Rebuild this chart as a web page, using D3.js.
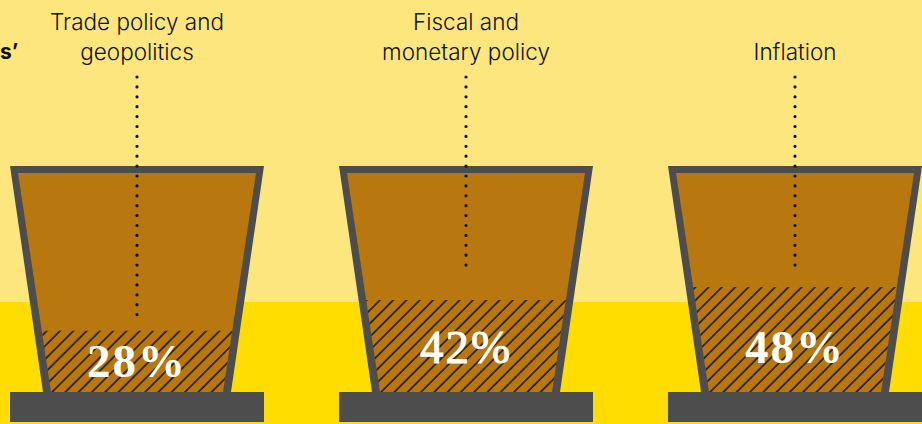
<!DOCTYPE html>
<html>
<head>
<meta charset="utf-8">
<script src="https://cdn.jsdelivr.net/npm/d3@7"></script>
<style>
  html, body { margin: 0; padding: 0; background: #FEE67F; }
  svg { display: block; }
</style>
</head>
<body>
<svg id="chart" width="922" height="424"></svg>
<script>
// Concerns, as shown above each cup
const categories = [
  ["Trade policy and", "geopolitics"],
  ["Fiscal and", "monetary policy"],
  ["Inflation"]
];
// Share of respondents (%) — hatched fill level in each cup
const shares = [28, 42, 48];
// Value labels
const valueLabels = ["28%", "42%", "48%"];

// ---- layout ----
const W = 922, H = 424;
const colors = {
  sky: "#FEE67F",
  ground: "#FFDD00",
  frame: "#4D4D4D",
  fill: "#B8770F",
  ink: "#111111"
};
const horizonY = 302;
const rimTop = 166, innerTop = 173, cupBottom = 392, baseBottom = 422;
const outerTopHalf = 127, outerBottomHalf = 94;
const innerTopHalf = 119, innerBottomHalf = 86;
const baseHalf = 127;
const leaderTop = 77;
const leaderBottom = [315, 270, 270];
const labelWeights = ["bold", "normal", "bold"];
const labelStroke = [0, 0.9, 0];

const svg = d3.select("#chart");

const x = d3.scalePoint()
  .domain(d3.range(categories.length))
  .range([137, 795]);

const y = d3.scaleLinear()
  .domain([0, 100])
  .range([cupBottom, innerTop]);

// inner half-width of a cup at a given height
const innerHalfAt = d3.scaleLinear()
  .domain([innerTop, cupBottom])
  .range([innerTopHalf, innerBottomHalf]);

// backdrop
svg.append("rect").attr("width", W).attr("height", H).attr("fill", colors.sky);
svg.append("rect").attr("y", horizonY).attr("width", W).attr("height", H - horizonY).attr("fill", colors.ground);

// hatch pattern
const defs = svg.append("defs");
const pat = defs.append("pattern")
  .attr("id", "hatch")
  .attr("patternUnits", "userSpaceOnUse")
  .attr("width", 9.4)
  .attr("height", 9.4)
  .attr("patternTransform", "rotate(45)");
pat.append("line")
  .attr("x1", 1).attr("y1", 0).attr("x2", 1).attr("y2", 9.4)
  .attr("stroke", colors.ink)
  .attr("stroke-width", 1.5);

// tail of the heading at the left edge
svg.append("text")
  .attr("x", 0).attr("y", 59)
  .attr("text-anchor", "start")
  .attr("font-family", "Inter, 'Noto Sans', sans-serif")
  .attr("font-weight", "bold")
  .attr("font-size", 21)
  .attr("fill", colors.ink)
  .text("s’");

const line = d3.line();

const cups = svg.selectAll("g.cup")
  .data(shares)
  .join("g")
  .attr("class", "cup")
  .attr("transform", (d, i) => `translate(${x(i)},0)`);

// frame
cups.append("path")
  .attr("d", line([
    [-outerTopHalf, rimTop], [outerTopHalf, rimTop],
    [outerBottomHalf, cupBottom], [-outerBottomHalf, cupBottom]
  ]) + "Z")
  .attr("fill", colors.frame);

// inside
cups.append("path")
  .attr("d", line([
    [-innerTopHalf, innerTop], [innerTopHalf, innerTop],
    [innerBottomHalf, cupBottom], [-innerBottomHalf, cupBottom]
  ]) + "Z")
  .attr("fill", colors.fill);

// hatched level
cups.append("path")
  .attr("d", d => {
    const top = y(d);
    const h = innerHalfAt(top);
    return line([
      [-h, top], [h, top],
      [innerBottomHalf, cupBottom], [-innerBottomHalf, cupBottom]
    ]) + "Z";
  })
  .attr("fill", "url(#hatch)");

// base plate
cups.append("rect")
  .attr("x", -baseHalf)
  .attr("y", cupBottom)
  .attr("width", baseHalf * 2)
  .attr("height", baseBottom - cupBottom)
  .attr("fill", colors.frame);

// dotted leaders
cups.append("line")
  .attr("x1", 0).attr("x2", 0)
  .attr("y1", leaderTop)
  .attr("y2", (d, i) => leaderBottom[i])
  .attr("stroke", colors.ink)
  .attr("stroke-width", 3.2)
  .attr("stroke-linecap", "round")
  .attr("stroke-dasharray", "0 9.9");

// category labels (bottom-aligned)
cups.each(function(d, i) {
  const lines = categories[i];
  const t = d3.select(this).append("text")
    .attr("text-anchor", "middle")
    .attr("font-family", "Inter, 'Noto Sans', sans-serif")
    .attr("font-size", 22.5)
    .attr("font-weight", 300)
    .attr("fill", colors.ink);
  lines.forEach((s, k) => {
    t.append("tspan")
      .attr("x", 0)
      .attr("y", 60 - (lines.length - 1 - k) * 30)
      .text(s);
  });
});

// value labels
cups.append("text")
  .attr("text-anchor", "middle")
  .attr("x", 0)
  .attr("y", d => Math.max((y(d) + cupBottom) / 2, 347) + 16)
  .attr("font-family", "'Liberation Serif', 'DejaVu Serif', serif")
  .attr("font-weight", (d, i) => labelWeights[i])
  .attr("font-size", 47)
  .attr("letter-spacing", 2)
  .attr("fill", "#FFFFFF")
  .attr("stroke", "#FFFFFF")
  .attr("stroke-width", (d, i) => labelStroke[i])
  .text((d, i) => valueLabels[i]);
</script>
</body>
</html>
